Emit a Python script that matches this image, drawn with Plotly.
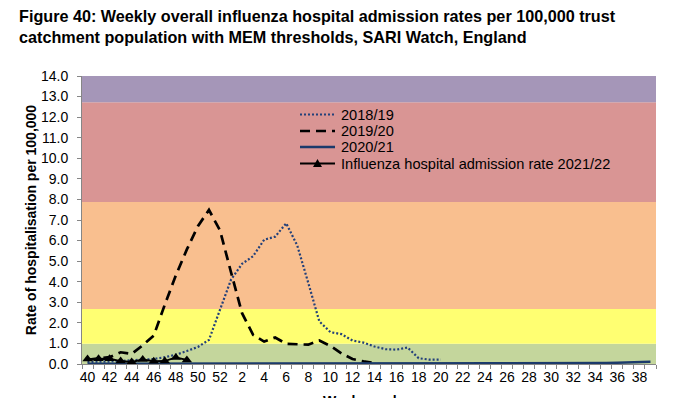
import plotly.graph_objects as go

weeks = list(range(40, 53)) + list(range(1, 40))
tick_labels = [str(w) for w in weeks]

s_2018_19 = [0.10, 0.10, 0.12, 0.15, 0.17, 0.20, 0.24, 0.33, 0.45, 0.63, 0.83, 1.17, 2.60,
             4.10, 4.87, 5.24, 6.04, 6.19, 6.84, 5.76, 3.94, 2.07, 1.55, 1.45, 1.14, 1.04,
             0.85, 0.72, 0.70, 0.80, 0.28, 0.21, 0.21]
s_2019_20 = [0.20, 0.25, 0.33, 0.57, 0.49, 0.91, 1.38, 2.88, 4.31, 5.57, 6.70, 7.49, 6.50,
             4.46, 2.47, 1.42, 1.09, 1.29, 0.98, 0.96, 0.94, 1.14, 0.88, 0.52, 0.24, 0.13, 0.05]
s_2020_21 = [0.02, 0.02, 0.02, 0.02, 0.02, 0.02, 0.02, 0.02, 0.02, 0.02, 0.02, 0.02, 0.02,
             0.02, 0.02, 0.04, 0.03, 0.02, 0.04, 0.04, 0.02, 0.04, 0.03, 0.02, 0.02, 0.02,
             0.02, 0.02, 0.02, 0.02, 0.02, 0.02, 0.02, 0.02, 0.02, 0.02, 0.02, 0.03, 0.02,
             0.03, 0.02, 0.02, 0.02, 0.03, 0.03, 0.03, 0.04, 0.05, 0.06, 0.07, 0.09, 0.11]
s_2021_22 = [0.24, 0.25, 0.25, 0.14, 0.10, 0.22, 0.13, 0.14, 0.32, 0.20]

series_names = ["2018/19", "2019/20", "2020/21", "Influenza hospital admission rate 2021/22"]

# MEM thresholds (band edges) and colours
thresholds = [0.0, 0.98, 2.67, 7.88, 12.73, 14.0]
band_colors = ["#C4D69C", "#FFFF72", "#F9BF8F", "#D99594", "#A596B8"]

font = "Arial, Liberation Sans, sans-serif"

# plot-area geometry in page pixels (page has an 8px body margin)
PL, PR, PT, PB = 82, 656, 76, 364
W, H = 693, 398
OFF = 8


def fx(p):
    return (p - PL) / (PR - PL)


def fy(p):
    return (PB - p) / (PB - PT)


idx = list(range(len(weeks)))
styles = [
    dict(color="#23407A", width=2.2, dash="2px,2px"),
    dict(color="#000000", width=2.7, dash="10px,6px"),
    dict(color="#1B3A6B", width=2.4),
    dict(color="#000000", width=2),
]
data = [s_2018_19, s_2019_20, s_2020_21, s_2021_22]

fig = go.Figure()
for i, c in enumerate(band_colors):
    fig.add_shape(type="rect", xref="paper", yref="y", x0=0, x1=1,
                  y0=thresholds[i], y1=thresholds[i + 1], fillcolor=c,
                  line=dict(width=0), layer="below")

for k, (name, vals, st) in enumerate(zip(series_names, data, styles)):
    if k == 3:
        fig.add_trace(go.Scatter(x=idx[:len(vals)], y=vals, mode="lines+markers", name=name,
                                 line=st, marker=dict(symbol="triangle-up", size=9,
                                                      color="#000000")))
    else:
        fig.add_trace(go.Scatter(x=idx[:len(vals)], y=vals, mode="lines", name=name, line=st))

# legend drawn in the plot area
rows = [114.5, 131, 147, 163.5]
for name, st, ry in zip(series_names, styles, rows):
    fig.add_shape(type="line", xref="paper", yref="paper", x0=fx(300), x1=fx(335),
                  y0=fy(ry), y1=fy(ry), line=st)
    fig.add_annotation(text=name, xref="paper", yref="paper", x=fx(339), y=fy(ry),
                       xanchor="left", yanchor="middle", showarrow=False,
                       font=dict(size=14.6, color="#000000"))
tx, ty = 317.5, rows[3]
fig.add_shape(type="path", xref="paper", yref="paper",
              path=f"M {fx(tx)},{fy(ty - 4.5)} L {fx(tx + 4.5)},{fy(ty + 3.5)} "
                   f"L {fx(tx - 4.5)},{fy(ty + 3.5)} Z",
              fillcolor="#000000", line=dict(width=0))

fig.update_layout(
    width=W, height=H,
    margin=dict(l=PL - OFF, r=W + OFF - PR, t=PT - OFF, b=H + OFF - PB),
    paper_bgcolor="white", plot_bgcolor="white",
    font=dict(family=font, size=14, color="#000000"),
    showlegend=False,
)
fig.add_annotation(text="<b>Figure 40: Weekly overall influenza hospital admission rates per 100,000 trust<br>"
                        "catchment population with MEM thresholds, SARI Watch, England</b>",
                   xref="paper", yref="paper", x=fx(17), y=fy(5), xanchor="left",
                   yanchor="top", align="left", showarrow=False,
                   font=dict(size=16.2, family=font, color="#000000"))
fig.update_xaxes(range=[-0.5, len(weeks) - 0.5], showgrid=False, zeroline=False,
                 tickvals=idx[::2], ticktext=tick_labels[::2], ticks="", ticklen=0,
                 tickfont=dict(size=14),
                 showline=True, linecolor="#868686", linewidth=1,
                 minor=dict(ticks="outside", tick0=-0.5, dtick=1, ticklen=4,
                            tickcolor="#868686", showgrid=False))
fig.update_yaxes(range=[0, 14], dtick=1, tickformat=".1f", showgrid=False, zeroline=False,
                 ticks="outside", ticklen=4, tickcolor="#868686",
                 showline=True, linecolor="#868686", linewidth=1,
                 tickfont=dict(size=14), ticklabelstandoff=6,
                 title=dict(text="<b>Rate of hospitalisation per 100,000</b>",
                            font=dict(size=14), standoff=1))
fig.add_annotation(text="<b>Week number</b>", xref="paper", yref="paper", x=0.5, y=fy(391),
                   xanchor="center", yanchor="top", showarrow=False, font=dict(size=14))

fig.write_html("out.html")
